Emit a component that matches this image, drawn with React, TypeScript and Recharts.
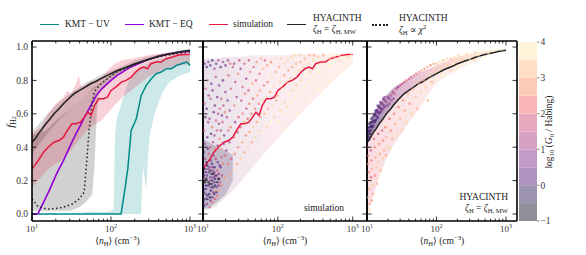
import React from "react";
import { Area, ComposedChart, Line, Scatter, XAxis, YAxis } from "recharts";

const W = 586;
const H = 255;
const FONT = "'Liberation Serif', 'DejaVu Serif', serif";
const TOP = 41;
const BOTTOM = 221;

const X_TICKS = [10, 20, 30, 40, 50, 60, 70, 80, 90, 100, 200, 300, 400, 500, 600, 700, 800, 900, 1000];
const Y_TICKS = [0, 0.2, 0.4, 0.6, 0.8, 1.0];
const Y_DOMAIN = [-0.042, 1.036];

// KMT - UV
const tealN = [10, 100, 134, 148, 163, 180, 209, 241, 279, 324, 374, 433, 504, 585, 674, 780, 908, 1000];
const tealF = [0, 0, 0, 0.13, 0.27, 0.5, 0.57, 0.71, 0.77, 0.81, 0.84, 0.85, 0.87, 0.87, 0.89, 0.9, 0.91, 0.89];
const tealBandN = [45, 60, 80, 100, 108, 112, 118, 130, 141, 155, 170, 190, 215, 240, 254, 268, 279, 295, 309, 340, 374, 450, 550, 740, 1000];
const tealBandLo = [0, 0, 0, 0, 0, 0, 0, 0, 0, 0, 0, 0, 0, 0, 0.29, 0.2, 0.15, 0.35, 0.47, 0.56, 0.63, 0.73, 0.79, 0.83, 0.85];
const tealBandHi = [0.01, 0.015, 0.01, 0.02, 0.03, 0.45, 0.57, 0.63, 0.69, 0.75, 0.8, 0.83, 0.86, 0.88, 0.89, 0.89, 0.9, 0.9, 0.91, 0.91, 0.92, 0.93, 0.94, 0.95, 0.95];

// KMT - EQ
const purpleN = [10, 11.5, 12, 13, 14, 15, 16.5, 18, 20, 22, 25, 28, 32, 36, 40, 45, 50, 57, 65, 75, 87, 100, 120, 140, 170, 210, 260, 320, 400, 520, 700, 1000];
const purpleF = [0, 0, 0.005, 0.04, 0.07, 0.1, 0.14, 0.18, 0.23, 0.27, 0.32, 0.37, 0.43, 0.48, 0.52, 0.57, 0.61, 0.66, 0.71, 0.745, 0.775, 0.8, 0.83, 0.85, 0.875, 0.895, 0.915, 0.93, 0.945, 0.958, 0.968, 0.975];

// simulation median
const redN = [10, 12, 14, 16, 19, 22, 25, 28, 32, 36, 41, 46, 51, 56, 62, 70, 80, 90, 100, 115, 135, 155, 180, 205, 230, 260, 290, 320, 370, 430, 500, 600, 700, 850, 1000];
const redF = [0.27, 0.32, 0.37, 0.4, 0.43, 0.44, 0.46, 0.5, 0.54, 0.54, 0.55, 0.58, 0.61, 0.59, 0.65, 0.69, 0.69, 0.7, 0.74, 0.76, 0.79, 0.8, 0.82, 0.85, 0.87, 0.88, 0.87, 0.9, 0.91, 0.91, 0.93, 0.94, 0.95, 0.955, 0.955];
const simBandN = [10, 13, 16, 20, 25, 28, 31, 36, 39, 42, 50, 60, 75, 90, 110, 140, 180, 230, 300, 400, 550, 750, 1000];
const simBandLo = [0.16, 0.22, 0.27, 0.3, 0.33, 0.36, 0.38, 0.42, 0.44, 0.46, 0.5, 0.53, 0.56, 0.6, 0.65, 0.7, 0.74, 0.78, 0.82, 0.85, 0.87, 0.89, 0.9];
const simBandHi = [0.48, 0.52, 0.6, 0.66, 0.7, 0.74, 0.72, 0.78, 0.83, 0.76, 0.78, 0.8, 0.81, 0.86, 0.9, 0.92, 0.93, 0.94, 0.95, 0.96, 0.965, 0.97, 0.97];

// HYACINTH, zeta = zeta_MW
const blackN = [10, 11, 12, 13.5, 15, 17, 19, 22, 25, 29, 34, 40, 47, 55, 65, 77, 90, 110, 130, 160, 200, 250, 320, 400, 500, 650, 800, 1000];
const blackF = [0.43, 0.45, 0.48, 0.51, 0.54, 0.57, 0.6, 0.63, 0.66, 0.69, 0.72, 0.74, 0.76, 0.78, 0.795, 0.815, 0.83, 0.85, 0.865, 0.88, 0.9, 0.915, 0.93, 0.945, 0.955, 0.965, 0.975, 0.98];
const mwBandN = [10, 15, 20, 30, 50, 80, 130, 200, 350, 600, 1000];
const mwBandLo = [0.36, 0.47, 0.54, 0.63, 0.72, 0.79, 0.85, 0.89, 0.93, 0.96, 0.975];
const mwBandHi = [0.49, 0.59, 0.65, 0.72, 0.79, 0.84, 0.88, 0.92, 0.95, 0.97, 0.985];

// HYACINTH, zeta ~ chi^2
const dotN = [10, 11.6, 13.4, 16.3, 21.9, 26.7, 32.4, 39.5, 45.7, 49, 52.7, 57, 61.2, 71, 90, 116, 150, 189, 250, 309, 400, 504, 700, 1000];
const dotF = [0.09, 0.05, 0.035, 0.03, 0.035, 0.045, 0.06, 0.09, 0.13, 0.3, 0.5, 0.65, 0.73, 0.77, 0.81, 0.85, 0.87, 0.89, 0.91, 0.93, 0.94, 0.95, 0.96, 0.97];
const chiBandN = [10, 15, 20, 30, 40, 50, 58, 62, 66, 70, 80, 100, 150, 250, 400, 700, 1000];
const chiBandLo = [0.02, 0.02, 0.02, 0.02, 0.04, 0.08, 0.12, 0.3, 0.6, 0.72, 0.76, 0.8, 0.86, 0.91, 0.94, 0.96, 0.97];
const chiBandHi = [0.47, 0.5, 0.56, 0.63, 0.68, 0.72, 0.75, 0.76, 0.77, 0.78, 0.8, 0.83, 0.88, 0.92, 0.95, 0.97, 0.98];

// outlines of the scatter clouds (drawn as faint shading under the dots)
const simCloudN = [10, 15, 20, 30, 50, 100, 200, 500, 1000];
const simCloudLo = [0.02, 0.05, 0.1, 0.18, 0.3, 0.45, 0.6, 0.78, 0.9];
const simCloudHi = [0.93, 0.93, 0.94, 0.94, 0.95, 0.95, 0.96, 0.96, 0.96];
const simCoreN = [10, 13, 16, 20, 25];
const simCoreLo = [0.03, 0.05, 0.08, 0.12, 0.2];
const simCoreHi = [0.45, 0.42, 0.4, 0.38, 0.35];
const hyaUpN = [10, 12, 15, 20, 25, 30, 40, 60, 100, 200, 500, 1000];
const hyaUpLo = [0.43, 0.48, 0.54, 0.62, 0.66, 0.69, 0.74, 0.79, 0.84, 0.9, 0.955, 0.98];
const hyaUpHi = [0.5, 0.58, 0.66, 0.72, 0.76, 0.78, 0.81, 0.85, 0.89, 0.94, 0.975, 0.99];
const hyaLowN = [10, 12, 15, 20, 30, 50, 100, 200, 500];
const hyaLowLo = [0.0, 0.1, 0.22, 0.35, 0.47, 0.6, 0.78, 0.86, 0.94];
const hyaLowHi = [0.43, 0.48, 0.54, 0.62, 0.7, 0.76, 0.84, 0.9, 0.955];

// scatter points [nH, fH2, log10 G0]
const simPts = [
  [10.3,0.05,0],[10.6,0.09,0.5],[10.2,0.13,-0.5],[10.9,0.17,0],[10.4,0.21,1],[10.8,0.25,0],[10.1,0.29,0.5],[10.7,0.33,1.5],
  [11.2,0.06,1],[11.5,0.11,0],[11.0,0.15,0.5],[11.8,0.19,-0.5],[11.3,0.23,0.5],[11.6,0.27,1],[11.1,0.31,0],[11.9,0.36,2],
  [12.3,0.04,2],[12.6,0.08,1],[12.1,0.12,0],[12.8,0.16,0.5],[12.4,0.2,1.5],[12.9,0.24,0],[12.2,0.28,1],[12.7,0.32,0.5],
  [13.3,0.07,2.5],[13.7,0.13,1],[13.1,0.18,0],[13.9,0.22,0.5],[13.5,0.26,1.5],[13.2,0.3,0],[13.8,0.35,1],
  [14.5,0.09,2],[14.9,0.14,3],[14.2,0.19,0.5],[14.7,0.23,1],[14.3,0.28,0],[14.8,0.33,1.5],
  [15.6,0.11,2.5],[15.2,0.16,1],[15.9,0.21,0.5],[15.4,0.26,2],[15.8,0.31,0.5],
  [16.5,0.14,3],[16.9,0.19,2],[16.2,0.24,1],[16.7,0.29,0],[17.5,0.17,2.5],[17.9,0.23,1.5],[17.2,0.28,0.5],[17.7,0.34,2],
  [10.5,0.42,1],[10.3,0.5,2],[10.8,0.58,0.5],[10.4,0.66,1.5],[10.9,0.75,2],[11.4,0.46,0.5],[11.7,0.55,1.5],[11.2,0.63,0],
  [11.9,0.71,1],[11.5,0.8,2.5],[12.5,0.4,2],[12.8,0.48,0],[12.2,0.57,1],[12.6,0.69,2],[12.9,0.78,0.5],[13.6,0.43,1.5],
  [13.2,0.52,2.5],[13.9,0.61,0.5],[13.4,0.74,1],[14.6,0.39,2.5],[14.2,0.47,1],[14.9,0.56,2],[14.4,0.65,0.5],[14.8,0.82,1.5],
  [15.7,0.41,1],[15.3,0.5,2],[15.9,0.6,1.5],[15.5,0.7,0.5],[16.6,0.45,2.5],[16.3,0.54,1],[16.8,0.63,2],[16.4,0.77,1],
  [17.6,0.39,3],[17.3,0.5,1.5],[17.9,0.59,0.5],[17.5,0.69,2],[18.5,0.3,2.5],[18.9,0.42,1],[18.2,0.55,2],[18.7,0.65,1.5],
  [18.4,0.8,0.5],[19.5,0.22,3],[19.8,0.35,2],[19.2,0.47,0.5],[19.6,0.61,2.5],[19.9,0.73,1],[21,0.2,3.5],[21.5,0.3,2.5],
  [20.5,0.38,1],[21.8,0.5,2],[20.8,0.58,1.5],[21.3,0.68,0.5],[21.9,0.83,2],[23,0.24,3],[23.8,0.33,2],[22.5,0.43,1.5],
  [23.4,0.52,2.5],[22.8,0.62,1],[23.6,0.75,2],
  [10.5,0.9,0.5],[11.2,0.88,0],[11.8,0.91,1],[12.5,0.89,0.5],[13.3,0.92,0],[14.2,0.87,1],[15.0,0.9,0.5],[16.0,0.92,1.5],
  [17.2,0.88,0],[18.5,0.91,1],[20,0.89,0.5],[21.5,0.92,1],[23,0.9,2],[25,0.88,1.5],
  [25.5,0.27,3.5],[26.5,0.36,2.5],[25.8,0.46,2],[26.9,0.55,1],[26.2,0.65,2.5],[27,0.79,1.5],[26,0.9,1],[28.5,0.3,3],
  [29.5,0.4,2.5],[28.8,0.49,1.5],[29.8,0.58,2],[28.2,0.7,1],[29.2,0.84,2.5],[30.5,0.92,1.5],[32,0.33,3.5],[33.5,0.43,3],
  [31.5,0.52,2],[34,0.6,2.5],[32.5,0.68,1.5],[33.8,0.76,2],[31.8,0.87,1],[36,0.37,3],[37.5,0.47,2.5],[35.5,0.55,3],
  [38,0.63,1.5],[36.5,0.72,2.5],[37.8,0.81,1],[35.8,0.9,2],[40,0.4,3.5],[42,0.49,3],[39.5,0.57,2],[41.5,0.66,2.5],
  [40.5,0.74,1.5],[42.5,0.85,2.5],[41,0.92,1.5],[45,0.43,3],[47,0.52,3.5],[44.5,0.6,2.5],[46.5,0.69,2],[45.5,0.78,3],
  [47.5,0.88,2],[50,0.46,3.5],[52.5,0.55,3],[49.5,0.63,2.5],[53,0.71,3],[51,0.8,2],[52,0.91,2.5],[56,0.5,3.5],
  [59,0.58,3],[55.5,0.66,2.5],[58,0.74,3],[57,0.84,2],[59.5,0.93,3],[63,0.49,4],[66,0.6,3],[62,0.68,3.5],
  [65,0.77,2.5],[64,0.87,3],[67,0.92,2],[71,0.52,3.5],[74,0.63,3],[70,0.7,3.5],[73,0.79,2.5],[72,0.89,3],
  [80,0.55,4],[84,0.65,3.5],[79,0.73,3],[83,0.82,3.5],[81,0.91,2.5],[90,0.58,3.5],[95,0.68,3],[89,0.76,3.5],
  [93,0.85,3],[92,0.93,3.5],
  [102,0.55,4],[108,0.62,3.5],[100,0.71,3],[106,0.79,3.5],[104,0.88,3],[110,0.93,3.5],[118,0.6,4],[124,0.67,3.5],
  [115,0.75,4],[122,0.83,3],[120,0.9,3.5],[132,0.64,3.5],[140,0.71,4],[130,0.79,3.5],[138,0.86,3],[135,0.92,3.5],
  [150,0.67,4],[158,0.74,3.5],[148,0.81,3.5],[155,0.88,3],[152,0.94,3.5],[170,0.7,4],[178,0.77,3.5],[168,0.84,4],
  [175,0.9,3],[172,0.95,3.5],[195,0.73,4],[205,0.8,3.5],[190,0.86,3.5],[200,0.91,3],[198,0.95,3.5],[225,0.76,4],
  [235,0.83,4],[220,0.88,3.5],[230,0.93,3],[260,0.79,4],[270,0.85,3.5],[255,0.9,3.5],[265,0.95,3],[300,0.82,4],
  [310,0.87,4],[295,0.92,3.5],[305,0.95,3],[350,0.85,4],[360,0.9,3.5],[345,0.94,3.5],[410,0.87,4],[420,0.92,3.5],
  [405,0.95,3],[480,0.89,4],[490,0.93,3.5],[560,0.91,4],[570,0.94,3.5],[650,0.92,3.5],[660,0.95,4],[760,0.93,4],
  [880,0.94,3.5],[950,0.95,4],[120,0.5,4],[180,0.6,4],[250,0.68,4],[350,0.75,4],[500,0.8,4],[400,0.72,4],
  [10.1,0.08,-0.5],[10.4,0.15,0],[10.6,0.19,-1],[10.3,0.23,0],[10.5,0.27,-0.5],[10.9,0.12,0.5],[11.4,0.09,-0.5],[11.7,0.17,0],
  [11.1,0.21,-1],[11.9,0.25,0.5],[11.4,0.29,-0.5],[12.4,0.1,-0.5],[12.7,0.14,0],[12.3,0.18,-1],[12.6,0.22,0.5],[12.5,0.26,-0.5],
  [13.4,0.1,0.5],[13.6,0.16,-0.5],[13.2,0.2,0],[13.7,0.24,-1],[13.4,0.28,0.5],[14.1,0.12,0],[14.5,0.17,-0.5],[14.4,0.21,0],
  [14.1,0.25,0.5],[15.1,0.13,0],[15.5,0.19,-0.5],[15.1,0.23,0.5],[16.1,0.17,0.5],[16.4,0.21,-0.5],[10.2,0.37,0],[11.6,0.39,0.5],
];

const hyaPts = [
  [10.2,0.47,-0.5],[10.5,0.52,0],[10.8,0.5,0.5],[11.2,0.55,-0.5],[11.6,0.53,0],[12,0.58,0.5],[12.5,0.56,0],[13,0.6,-0.5],
  [13.5,0.59,0.5],[14,0.62,0],[14.6,0.61,1],[15.2,0.64,0.5],[15.9,0.63,0],[16.6,0.66,1],[17.4,0.65,0.5],[18.2,0.68,1],
  [19,0.67,1.5],[20,0.7,1],[21,0.69,0.5],[22,0.71,1.5],[23.5,0.73,1],[25,0.72,2],[26.5,0.75,1.5],[28,0.76,1],
  [30,0.77,2],[32,0.78,1.5],[34.5,0.79,2],[37,0.8,2.5],[40,0.81,2],[43,0.82,1.5],[47,0.83,2.5],[51,0.84,2],
  [56,0.85,2.5],[61,0.86,3],[67,0.87,2.5],[74,0.88,3],[82,0.89,2.5],[91,0.9,3],[100,0.9,3],[112,0.91,3.5],
  [125,0.92,3],[140,0.93,3.5],[160,0.93,3],[180,0.94,3.5],[205,0.95,3.5],[235,0.95,4],[270,0.96,3.5],[310,0.96,4],
  [360,0.97,3.5],[420,0.97,4],[500,0.98,4],[600,0.98,4],[720,0.985,4],[870,0.985,4],
  [10.3,0.44,-0.5],[10.6,0.46,0],[11,0.48,-1],[11.4,0.5,0],[11.9,0.52,-0.5],[12.3,0.53,0.5],[12.8,0.55,0],[13.3,0.56,-0.5],
  [13.8,0.57,0.5],[14.3,0.58,0],[14.9,0.6,0.5],[15.6,0.61,0],[16.3,0.62,1],[17,0.63,0.5],[18,0.64,1],[19.5,0.65,0.5],
  [21,0.66,1],[22.5,0.68,1.5],[24,0.69,1],
  [10.1,0.5,-0.5],[10.4,0.49,0],[10.7,0.54,-0.5],[11.1,0.52,0],[11.5,0.57,-0.5],[11.8,0.55,0],[12.2,0.6,0.5],[12.7,0.59,-0.5],
  [13.2,0.62,0],[13.7,0.61,0.5],[14.2,0.65,0],[14.8,0.64,0.5],[15.5,0.67,0.5],[16.1,0.66,1],[17,0.69,0.5],[17.8,0.7,1],
  [10.2,0.4,2],[10.4,0.35,2.5],[10.3,0.3,3],[10.6,0.25,2.5],[10.5,0.2,3.5],[10.8,0.15,3],[10.4,0.1,3.5],[11,0.06,3],
  [10.9,0.02,3.5],[11.3,0.38,1.5],[11.5,0.32,2.5],[11.8,0.27,3],[11.4,0.22,2],[12,0.17,3.5],[12.2,0.12,3],[11.7,0.08,2.5],
  [12.6,0.45,2],[12.9,0.4,2.5],[13.2,0.34,3],[13.6,0.28,3.5],[13,0.23,2.5],[13.9,0.18,3],[14.5,0.48,1.5],[14.9,0.42,2.5],
  [15.3,0.36,3],[14.6,0.31,3.5],[15.8,0.26,3],[16.5,0.5,2],[17,0.44,2.5],[17.6,0.38,3],[16.8,0.33,3.5],[18.4,0.52,2.5],
  [19,0.46,3],[19.8,0.4,3.5],[18.8,0.35,3],[21,0.57,2],[22,0.5,2.5],[23,0.45,3],[21.6,0.39,3.5],[24.5,0.6,2.5],
  [25.5,0.54,3],[27,0.48,3.5],[28.5,0.64,2.5],[30,0.57,3],[32,0.5,3.5],[33,0.68,2.5],[35,0.62,3],[37,0.55,3.5],
  [39,0.72,3],[41,0.66,2.5],[44,0.6,3.5],[46,0.75,3],[50,0.7,3.5],[53,0.63,3],[56,0.78,3],[60,0.73,3.5],
  [66,0.8,3],[70,0.76,3.5],[75,0.68,3],[80,0.83,3.5],[86,0.79,3],[95,0.85,3.5],[100,0.81,4],[115,0.87,3.5],
  [125,0.83,4],[140,0.89,3.5],[160,0.86,3.5],[175,0.9,4],[200,0.88,4],[230,0.92,3.5],[260,0.9,4],[300,0.93,4],
  [350,0.92,3.5],[400,0.95,4],[480,0.94,4],[560,0.96,4],
];

// colorbar
const cbLo = [-1, -0.5, 0, 0.5, 1, 1.5, 2, 2.5, 3, 3.5];
const cbHi = [-0.5, 0, 0.5, 1, 1.5, 2, 2.5, 3, 3.5, 4];
const cbColors = ["#8f8f98", "#9d94b2", "#b094c4", "#c39bc7", "#d5a2c5", "#e8a8bf", "#f8b7b6", "#fdcab8", "#fedec5", "#fef3d8"];
const CB_TICKS = [-1, 0, 1, 2, 3, 4];

const MAGMA = ["#000004", "#140e36", "#3b0f70", "#641a80", "#8c2981", "#b73779", "#de4968", "#f7705c", "#fe9f6d", "#fecf92", "#fcfdbf"];
const magma = (g: number) => MAGMA[Math.max(0, Math.min(10, Math.round((g + 1) * 2)))];

const line = (ns: number[], fs: number[]) => ns.map((n, i) => ({ n, f: fs[i] }));
const band = (ns: number[], lo: number[], hi: number[]) => ns.map((n, i) => ({ n, r: [lo[i], hi[i]] }));
const pts = (arr: number[][]) => arr.map(([n, f, g]) => ({ n, f, g }));

const SUP: Record<number, string> = { 10: "1", 100: "2", 1000: "3" };
const AX = { stroke: "#000", strokeWidth: 1.6 };

const xTick = (side: string, label: boolean) => (p: any) => {
  const v = p.payload.value;
  const major = SUP[v] !== undefined;
  const len = major ? 4.5 : 2.5;
  const dir = side === "bottom" ? -1 : 1;
  return (
    <g>
      <line x1={p.x} x2={p.x} y1={p.y} y2={p.y + dir * len} stroke="#000" strokeWidth={0.8} />
      {label && major && (
        <text x={p.x} y={p.y + 10.5} textAnchor="middle" fontSize={9} fontFamily={FONT} fill="#333">
          10<tspan dy={-3.5} fontSize={6}>{SUP[v]}</tspan>
        </text>
      )}
    </g>
  );
};

const yTick = (side: string, label: boolean) => (p: any) => {
  const dir = side === "left" ? 1 : -1;
  return (
    <g>
      <line x1={p.x} x2={p.x + dir * 4.5} y1={p.y} y2={p.y} stroke="#000" strokeWidth={0.8} />
      {label && (
        <text x={p.x - 4} y={p.y} dy="0.35em" textAnchor="end" fontSize={9.5} fontFamily={FONT} fill="#333">
          {p.payload.value.toFixed(1)}
        </text>
      )}
    </g>
  );
};

function Panel({ left, right, xMax, yLabels, children }: any) {
  const xProps = {
    dataKey: "n", type: "number" as const, scale: "log" as const, domain: [10, xMax],
    allowDataOverflow: true, ticks: X_TICKS, interval: 0, height: 1, tickSize: 0, tickMargin: 0,
    tickLine: false, axisLine: AX,
  };
  const yProps = {
    dataKey: "f", type: "number" as const, domain: Y_DOMAIN, allowDataOverflow: true, ticks: Y_TICKS,
    interval: 0, width: 1, tickSize: 0, tickMargin: 0, tickLine: false, axisLine: AX,
  };
  return (
    <div style={{ position: "absolute", left: 0, top: 0 }}>
      <ComposedChart width={W} height={H} margin={{ top: TOP - 1, bottom: H - BOTTOM - 1, left: left - 1, right: W - right - 1 }}>
        <defs>
          <linearGradient id="simCloud" x1="0" y1="0" x2="1" y2="0">
            <stop offset="0" stopColor="#5a3a7a" stopOpacity={0.16} />
            <stop offset="0.45" stopColor="#d4607a" stopOpacity={0.12} />
            <stop offset="1" stopColor="#fca970" stopOpacity={0.16} />
          </linearGradient>
          <linearGradient id="hyaUp" x1="0" y1="0" x2="1" y2="0">
            <stop offset="0" stopColor="#2a1a5a" stopOpacity={0.55} />
            <stop offset="0.25" stopColor="#a03a8a" stopOpacity={0.35} />
            <stop offset="0.6" stopColor="#f27860" stopOpacity={0.3} />
            <stop offset="1" stopColor="#fdd29a" stopOpacity={0.3} />
          </linearGradient>
          <linearGradient id="hyaLow" x1="0" y1="0" x2="1" y2="0">
            <stop offset="0" stopColor="#e8607a" stopOpacity={0.22} />
            <stop offset="1" stopColor="#fdc08a" stopOpacity={0.18} />
          </linearGradient>
        </defs>
        <XAxis xAxisId="b" {...xProps} tick={xTick("bottom", true)} />
        <XAxis xAxisId="t" orientation="top" {...xProps} tick={xTick("top", false)} />
        <YAxis yAxisId="l" {...yProps} tick={yTick("left", yLabels)} />
        <YAxis yAxisId="r" orientation="right" {...yProps} tick={yTick("right", false)} />
        {children}
      </ComposedChart>
    </div>
  );
}

const common = { xAxisId: "b", yAxisId: "l", isAnimationActive: false };

const dotShape = (p: any) => (
  <circle cx={p.cx} cy={p.cy} r={1.3} fill={magma(p.payload.g)} fillOpacity={0.6} />
);

function Abs({ x, y, children, align = "left", style }: any) {
  const tx = align === "left" ? "0" : align === "right" ? "-100%" : "-50%";
  return (
    <div style={{ position: "absolute", left: x, top: y, transform: `translate(${tx}, -50%)`, whiteSpace: "nowrap", lineHeight: 1, ...style }}>
      {children}
    </div>
  );
}

const sub = { fontSize: "0.7em", verticalAlign: "-0.25em" };
const LegLine = ({ x, y, color, dotted }: any) => (
  <div style={{ position: "absolute", left: x, top: y, width: dotted ? 16 : 19, borderTop: `${dotted ? 2 : 1.6}px ${dotted ? "dotted" : "solid"} ${color}` }} />
);

export default function App() {
  return (
    <div style={{ position: "absolute", left: 0, top: 0, width: W, height: H, background: "#fff", fontFamily: FONT, color: "#222", fontSize: 9.5, overflow: "hidden" }}>
      <Panel left={32} right={203} xMax={1460} yLabels>
        <Area {...common} data={band(tealBandN, tealBandLo, tealBandHi)} dataKey="r" type="linear" stroke="none" fill="#008b8b" fillOpacity={0.2} />
        <Area {...common} data={band(chiBandN, chiBandLo, chiBandHi)} dataKey="r" type="linear" stroke="none" fill="#000" fillOpacity={0.18} />
        <Area {...common} data={band(mwBandN, mwBandLo, mwBandHi)} dataKey="r" type="linear" stroke="none" fill="#000" fillOpacity={0.15} />
        <Area {...common} data={band(simBandN, simBandLo, simBandHi)} dataKey="r" type="linear" stroke="none" fill="#dc143c" fillOpacity={0.2} />
        <Line {...common} data={line(tealN, tealF)} dataKey="f" type="linear" stroke="#008b8b" strokeWidth={1.5} dot={false} />
        <Line {...common} data={line(purpleN, purpleF)} dataKey="f" type="linear" stroke="#9400d3" strokeWidth={1.6} dot={false} />
        <Line {...common} data={line(dotN, dotF)} dataKey="f" type="linear" stroke="#222" strokeWidth={1.5} strokeDasharray="1.5 2.5" dot={false} />
        <Line {...common} data={line(blackN, blackF)} dataKey="f" type="linear" stroke="#222" strokeWidth={1.6} dot={false} />
        <Line {...common} data={line(redN, redF)} dataKey="f" type="linear" stroke="#e8173f" strokeWidth={1.5} dot={false} />
      </Panel>
      <Panel left={203} right={367} xMax={1550} yLabels={false}>
        <Area {...common} data={band(simCloudN, simCloudLo, simCloudHi)} dataKey="r" type="monotone" stroke="none" fill="url(#simCloud)" fillOpacity={1} />
        <Area {...common} data={band(simCoreN, simCoreLo, simCoreHi)} dataKey="r" type="monotone" stroke="none" fill="#3a2a5a" fillOpacity={0.22} />
        <Scatter {...common} data={pts(simPts)} dataKey="f" shape={dotShape} />
        <Line {...common} data={line(redN, redF)} dataKey="f" type="linear" stroke="#e8173f" strokeWidth={1.5} dot={false} />
      </Panel>
      <Panel left={367} right={517} xMax={1440} yLabels={false}>
        <Area {...common} data={band(hyaLowN, hyaLowLo, hyaLowHi)} dataKey="r" type="monotone" stroke="none" fill="url(#hyaLow)" fillOpacity={1} />
        <Area {...common} data={band(hyaUpN, hyaUpLo, hyaUpHi)} dataKey="r" type="monotone" stroke="none" fill="url(#hyaUp)" fillOpacity={1} />
        <Scatter {...common} data={pts(hyaPts)} dataKey="f" shape={dotShape} />
        <Line {...common} data={line(blackN, blackF)} dataKey="f" type="linear" stroke="#222" strokeWidth={1.5} dot={false} />
      </Panel>

      {/* colorbar */}
      <div style={{ position: "absolute", left: 0, top: 0 }}>
        <ComposedChart width={W} height={H} margin={{ top: 42, bottom: H - 221, left: 519, right: W - 537 - 1 }}>
          <XAxis dataKey="n" type="number" domain={[0, 1]} hide />
          <YAxis type="number" orientation="right" domain={[-1, 4]} allowDataOverflow ticks={CB_TICKS} interval={0} width={1} tickSize={0} tickMargin={0} tickLine={false} axisLine={false}
            tick={(p: any) => (
              <g>
                <line x1={p.x} x2={p.x + 2.5} y1={p.y} y2={p.y} stroke="#666" strokeWidth={0.8} />
                <text x={p.x + 3.5} y={p.y} dy="0.35em" fontSize={9.5} fontFamily={FONT} fill="#333">
                  {p.payload.value < 0 ? "\u2212" + Math.abs(p.payload.value) : p.payload.value}
                </text>
              </g>
            )} />
          {cbLo.map((lo, i) => (
            <Area key={i} data={band([0, 1], [lo, lo], [cbHi[i], cbHi[i]])} dataKey="r" type="linear" stroke="none" fill={cbColors[i]} fillOpacity={1} isAnimationActive={false} />
          ))}
        </ComposedChart>
      </div>

      {/* legend */}
      <LegLine x={40} y={24} color="#008b8b" />
      <Abs x={65} y={25}>KMT − UV</Abs>
      <LegLine x={125} y={24} color="#9400d3" />
      <Abs x={149} y={25}>KMT − EQ</Abs>
      <LegLine x={209} y={24} color="#e8173f" />
      <Abs x={233} y={25}>simulation</Abs>
      <LegLine x={287} y={24} color="#222" />
      <Abs x={313} y={19}>HYACINTH</Abs>
      <Abs x={313} y={30}><i>ζ</i><span style={sub}>H</span> = <i>ζ</i><span style={sub}>H, MW</span></Abs>
      <LegLine x={372} y={24} color="#222" dotted />
      <Abs x={399} y={19}>HYACINTH</Abs>
      <Abs x={399} y={30}><i>ζ</i><span style={sub}>H</span> ∝ <i>χ</i><sup style={{ fontSize: "0.7em" }}>2</sup></Abs>

      {/* panel notes */}
      <Abs x={344} y={209} align="right">simulation</Abs>
      <Abs x={508} y={198} align="right">HYACINTH</Abs>
      <Abs x={508} y={209} align="right"><i>ζ</i><span style={sub}>H</span> = <i>ζ</i><span style={sub}>H, MW</span></Abs>

      {/* axis labels */}
      <Abs x={11} y={122} align="center" style={{ transform: "translate(-50%, -50%) rotate(-90deg)", fontSize: 11 }}>
        <i>f</i><span style={sub}>H<span style={{ fontSize: "0.8em" }}>2</span></span>
      </Abs>
      {[117.5, 285, 442].map((cx) => (
        <Abs key={cx} x={cx} y={241} align="center" style={{ fontSize: 9.5 }}>
          ⟨<i>n</i><span style={sub}>H</span>⟩ (cm<sup style={{ fontSize: "0.7em" }}>−3</sup>)
        </Abs>
      ))}
      <Abs x={550} y={132} align="center" style={{ transform: "translate(-50%, -50%) rotate(-90deg)", fontSize: 9.5 }}>
        log<span style={sub}>10</span> (<i>G</i><span style={sub}>0</span> / Habing)
      </Abs>
    </div>
  );
}
